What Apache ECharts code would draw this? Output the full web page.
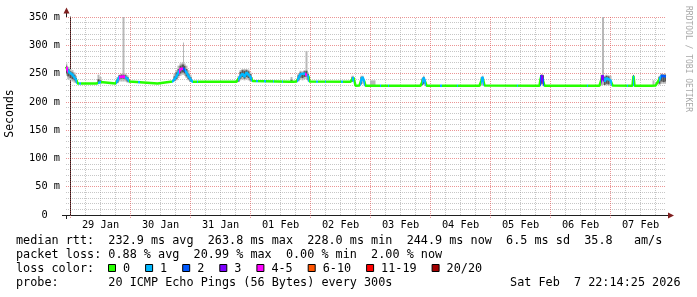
<!DOCTYPE html>
<html><head><meta charset="utf-8">
<script src="https://cdn.jsdelivr.net/npm/echarts@6/dist/echarts.min.js"></script>
<style>html,body{margin:0;padding:0;background:#fff}#c{width:697px;height:297px}</style>
</head><body><div id="c"></div>
<script>
// ---- time (hours from 29 Jan 00:00) ----
const xMin = -1.8, xMax = 238.2;
const times = [
  -1.8, -0.8, 0, 0.8, 1.6, 2.4, 2.8, 10.4, 11.2, 12.0,
  12.8, 18.0, 18.8, 19.6, 20.4, 21.2, 22.0, 22.8, 23.6, 24.4,
  34.8, 35.2, 40.8, 41.6, 42.4, 43.2, 44.0, 44.8, 45.2, 45.6,
  46.4, 47.2, 48.0, 48.8, 66.4, 67.2, 68.0, 68.8, 69.6, 70.4,
  71.2, 72.0, 72.8, 73.2, 87.6, 88.4, 89.2, 90.4, 91.2, 92.0,
  92.8, 93.6, 94.4, 95.2, 95.6, 112.0, 112.8, 113.2, 113.6, 114.0,
  115.6, 116.4, 116.8, 117.6, 118.0, 121.6, 122.4, 140.0, 140.8, 141.2,
  142.0, 142.4, 163.6, 164.4, 164.8, 165.6, 187.6, 188.0, 188.4, 189.2,
  189.6, 211.6, 212.4, 212.8, 213.2, 213.6, 214.4, 215.2, 216.0, 216.8,
  224.8, 225.2, 225.6, 232.4, 233.2, 234.0, 234.8, 235.6, 236.4, 237.2, 238.2
];
// median rtt (ms)
const median = [
  262, 253, 250, 248, 245, 238, 232.5, 232.5, 234, 235,
  232.5, 232.5, 238, 244, 245, 245, 244, 241, 236, 232.5,
  232.5, 235.5, 236, 240, 245, 252, 258, 260, 259, 257,
  252, 245, 240, 235.5, 235.5, 238, 246, 250, 244, 252,
  249, 244, 237, 235.5, 235.5, 235.5, 235.5, 236, 242, 249,
  246, 250, 253, 245, 236, 235.5, 238, 243, 236, 228.5,
  229, 240, 244, 235, 228.5, 228.5, 228.5, 228.5, 236, 243,
  234, 228.5, 228.5, 238, 244, 229, 228.5, 240, 247, 246,
  228.5, 228.5, 240, 247, 246, 236, 242, 240, 238, 229,
  228.5, 246, 228.5, 228.5, 228.5, 229, 229, 240, 246, 245, 245
];
// smoke (outer, light)
const smokeLo = [
  246, 240, 238, 236, 234, 233, 232.5, 232.5, 233, 233,
  232.5, 232.5, 233, 236, 236, 236, 236, 234, 233, 232.5,
  232.5, 235.5, 236, 236, 238, 242, 246, 248, 248, 246,
  242, 238, 235, 235.5, 235.5, 235, 238, 240, 238, 240,
  238, 236, 235, 235.5, 235.5, 235, 235.5, 236, 236, 240,
  238, 240, 240, 236, 236, 235.5, 235, 236, 236, 228.5,
  229, 230, 232, 229, 228.5, 228, 228.5, 228.5, 229, 230,
  229, 228.5, 228.5, 229, 230, 229, 228.5, 229, 230, 230,
  228.5, 228.5, 229, 230, 230, 229, 230, 229, 229, 229,
  228.5, 229, 228.5, 228.5, 228, 229, 229, 230, 232, 232, 232
];
const smokeHi = [
  268, 262, 258, 256, 252, 246, 232.5, 232.5, 248, 244,
  232.5, 232.5, 244, 248, 250, 356, 250, 247, 240, 232.5,
  232.5, 235.5, 236, 250, 256, 264, 268, 270, 305, 268,
  264, 256, 248, 235.5, 235.5, 246, 256, 258, 258, 258,
  257, 252, 244, 235.5, 235.5, 244, 235.5, 236, 250, 255,
  254, 256, 290, 252, 236, 235.5, 246, 246, 236, 228.5,
  229, 246, 246, 240, 228.5, 238, 228.5, 228.5, 242, 246,
  240, 228.5, 228.5, 244, 246, 229, 228.5, 248, 249, 248,
  228.5, 228.5, 248, 356, 356, 246, 248, 247, 246, 229,
  228.5, 248, 228.5, 228.5, 238, 229, 229, 246, 250, 249, 250
];
// smoke (core, dark)
const coreLo = [
  250, 245, 242, 240, 238, 234, 232.5, 232.5, 233, 233,
  232.5, 232.5, 234, 240, 241, 241, 240, 236, 236, 232.5,
  232.5, 235.5, 236, 237, 240, 246, 250, 252, 252, 250,
  245, 240, 236, 235.5, 235.5, 236, 241, 244, 241, 244,
  242, 238, 237, 235.5, 235.5, 235, 235.5, 236, 238, 243,
  242, 244, 245, 238, 236, 235.5, 236, 243, 236, 228.5,
  229, 232, 244, 235, 228.5, 228.5, 228.5, 228.5, 230, 232,
  234, 228.5, 228.5, 238, 244, 229, 228.5, 230, 232, 232,
  228.5, 228.5, 240, 247, 246, 230, 232, 231, 238, 229,
  228.5, 229, 228.5, 228.5, 228.5, 229, 229, 232, 236, 235, 236
];
const coreHi = [
  264, 258, 254, 252, 248, 242, 232.5, 232.5, 240, 238,
  232.5, 232.5, 240, 247, 248, 248, 247, 244, 236, 232.5,
  232.5, 235.5, 236, 245, 252, 258, 264, 266, 266, 264,
  258, 250, 244, 235.5, 235.5, 242, 253, 256, 255, 256,
  254, 249, 237, 235.5, 235.5, 239, 235.5, 236, 247, 252,
  251, 254, 255, 249, 236, 235.5, 244, 243, 236, 228.5,
  229, 244, 244, 235, 228.5, 228.5, 228.5, 228.5, 240, 244,
  234, 228.5, 228.5, 238, 244, 229, 228.5, 247, 248, 247,
  228.5, 228.5, 240, 247, 246, 244, 246, 245, 238, 229,
  228.5, 247, 228.5, 228.5, 228.5, 229, 229, 244, 248, 248, 248
];
// loss colour segments along time
const lossSegStart = [-1.8, -1.0, 3.6, 11.0, 18.4, 19.6, 22.0, 27.2, 40.8, 43.6, 45.2, 46.0, 50.4, 67.0, 74.4, 77.6, 81.0, 84.6, 90.8, 93.8, 94.8, 98.4, 101.8, 108.4, 112.6, 116.0, 123.8, 126.8, 140.6, 148.0, 154.6, 164.2, 178.6, 187.8, 188.2, 189.0, 206.6, 212.2, 213.4, 222.6, 225.0, 235.2, 236.2];
const lossSegEnd   = [-1.0, 2.6, 4.4, 12.2, 19.6, 22.0, 23.6, 27.8, 43.6, 45.2, 46.0, 49.2, 51.2, 72.8, 75.0, 78.2, 81.6, 85.2, 93.8, 94.8, 95.6, 99.0, 102.4, 109.0, 113.6, 117.8, 124.4, 127.4, 142.2, 148.8, 155.2, 165.4, 179.2, 188.2, 189.0, 189.4, 207.2, 213.4, 216.6, 223.2, 225.6, 236.2, 238.2];
const lossSegLevel = [4, 1, 1, 1, 1, 4, 1, 1, 1, 4, 2, 1, 1, 1, 1, 1, 1, 1, 1, 4, 1, 1, 1, 1, 1, 1, 1, 1, 1, 1, 1, 1, 1, 2, 3, 2, 1, 3, 1, 1, 1, 1, 2];
const lossColors = ['#26ff00', '#00b8ff', '#0059ff', '#7e00ff', '#ff00ff', '#ff5500', '#ff0000', '#a10000'];
const lossLabels = ['0', '1', '2', '3', '4-5', '6-10', '11-19', '20/20'];
// axes
const dayLines = [0, 24, 48, 72, 96, 120, 144, 168, 192, 216];
const dayLabelTimes = [12, 36, 60, 84, 108, 132, 156, 180, 204, 228];
const dayLabels = ['29 Jan', '30 Jan', '31 Jan', '01 Feb', '02 Feb', '03 Feb', '04 Feb', '05 Feb', '06 Feb', '07 Feb'];
const yMax = 350, yStep = 50;
// legend text
const legendLines = [
  'median rtt:  232.9 ms avg  263.8 ms max  228.0 ms min  244.9 ms now  6.5 ms sd  35.8   am/s',
  'packet loss: 0.88 % avg  20.99 % max  0.00 % min  2.00 % now',
  'loss color:',
  'probe:       20 ICMP Echo Pings (56 Bytes) every 300s'
];
const dateText = 'Sat Feb  7 22:14:25 2026';

const MONO = '"DejaVu Sans Mono", monospace';
const CHW = 7.1;
const MINOR = 'rgba(143,143,143,0.5)', MAJOR = 'rgba(222,79,79,0.6)';

// smoke cells: each sample covers half-way to its neighbours
const edges = times.map((t, i) => [
  i === 0 ? t : (times[i - 1] + t) / 2,
  i === times.length - 1 ? t : (t + times[i + 1]) / 2
]);
const cells = (lo, hi) => times.map((t, i) => [edges[i][0], edges[i][1], lo[i], hi[i]]).filter(r => r[3] > r[2]);

function cellRender(color) {
  return function (params, api) {
    const a = api.coord([api.value(0), api.value(3)]);
    const b = api.coord([api.value(1), api.value(2)]);
    const rect = echarts.graphic.clipRectByRect(
      {x: a[0], y: a[1], width: b[0] - a[0], height: b[1] - a[1]},
      {x: params.coordSys.x, y: params.coordSys.y, width: params.coordSys.width, height: params.coordSys.height});
    return rect && {type: 'rect', shape: rect, style: {fill: color}};
  };
}

const vGrid = [];
dayLines.forEach(d => { vGrid.push([d, 1]); [6, 12, 18].forEach(o => { if (d + o < xMax) vGrid.push([d + o, 0]); }); });

const pieces = lossSegStart.map((s, i) => ({gte: s, lt: lossSegEnd[i], color: lossColors[lossSegLevel[i]]}));

// legend graphics
const graphics = [];
const lineY = [241, 255, 269, 283];
legendLines.forEach((txt, i) => graphics.push({type: 'text', x: 16, y: lineY[i], silent: true,
  style: {text: txt, font: `11.8px ${MONO}`, fill: '#000', align: 'left', verticalAlign: 'middle'}}));
graphics.push({type: 'text', x: 680.5, y: lineY[3], silent: true,
  style: {text: dateText, font: `11.8px ${MONO}`, fill: '#000', align: 'right', verticalAlign: 'middle'}});
let bx = 108;
lossLabels.forEach((lab, i) => {
  graphics.push({type: 'rect', silent: true, shape: {x: bx + 0.5, y: 264.5, width: 7, height: 7},
    style: {fill: lossColors[i], stroke: '#000', lineWidth: 1}});
  graphics.push({type: 'text', x: bx + 15, y: lineY[2], silent: true,
    style: {text: lab, font: `11.8px ${MONO}`, fill: '#000', align: 'left', verticalAlign: 'middle'}});
  bx = bx + 15 + lab.length * CHW + 15;
});
graphics.push({type: 'text', x: 10.5, y: 113.5, rotation: Math.PI / 2, silent: true,
  style: {text: 'Seconds', font: `11.5px ${MONO}`, fill: '#000', align: 'center', verticalAlign: 'middle'}});
graphics.push({type: 'text', x: 688, y: 59, rotation: -Math.PI / 2, silent: true,
  style: {text: 'RRDTOOL / TOBI OETIKER', font: `8px ${MONO}`, fill: '#a8a8a8', align: 'center', verticalAlign: 'middle'}});
// axis extensions + arrows
graphics.push({type: 'line', silent: true, shape: {x1: 66.5, y1: 17, x2: 66.5, y2: 13}, style: {stroke: '#1f1f1f', lineWidth: 1}});
graphics.push({type: 'line', silent: true, shape: {x1: 66.5, y1: 215, x2: 66.5, y2: 219}, style: {stroke: '#1f1f1f', lineWidth: 1}});
graphics.push({type: 'line', silent: true, shape: {x1: 62, y1: 215.5, x2: 66, y2: 215.5}, style: {stroke: '#1f1f1f', lineWidth: 1}});
graphics.push({type: 'line', silent: true, shape: {x1: 666, y1: 215.5, x2: 668, y2: 215.5}, style: {stroke: '#1f1f1f', lineWidth: 1}});
graphics.push({type: 'polygon', silent: true, shape: {points: [[63.5, 13.5], [66.5, 7.5], [69.5, 13.5]]}, style: {fill: '#7f1f1f'}});
graphics.push({type: 'polygon', silent: true, shape: {points: [[668, 212.5], [674, 215.5], [668, 218.5]]}, style: {fill: '#7f1f1f'}});

const chart = echarts.init(document.getElementById('c'), null, {renderer: 'canvas', width: 697, height: 297});
chart.setOption({
  animation: false,
  backgroundColor: '#ffffff',
  grid: {left: 66, top: 17, width: 600, height: 198, containLabel: false},
  xAxis: {
    type: 'value', min: xMin, max: xMax,
    axisLine: {show: true, onZero: false, lineStyle: {color: '#1f1f1f', width: 1}},
    axisTick: {show: false},
    splitLine: {show: false},
    axisLabel: {
      customValues: dayLabelTimes,
      formatter: v => { const k = dayLabelTimes.indexOf(v); return k >= 0 ? dayLabels[k] : ''; },
      fontFamily: MONO, fontSize: 10.3, color: '#000', margin: 5
    }
  },
  yAxis: {
    type: 'value', min: 0, max: yMax, interval: yStep,
    axisLine: {show: true, lineStyle: {color: '#1f1f1f', width: 1}},
    axisTick: {show: false},
    axisLabel: {formatter: v => v === 0 ? '0  ' : v + ' m', fontFamily: MONO, fontSize: 10.3, color: '#000', margin: 6},
    splitLine: {show: true, lineStyle: {color: MAJOR, type: 'dotted', width: 1}},
    minorTick: {show: false, splitNumber: 5},
    minorSplitLine: {show: true, lineStyle: {color: MINOR, type: 'dotted', width: 1}}
  },
  visualMap: [{type: 'piecewise', show: false, dimension: 0, seriesIndex: 3, pieces: pieces, outOfRange: {color: lossColors[0]}}],
  series: [
    {name: 'vgrid', type: 'custom', silent: true, z: 1, data: vGrid, encode: {x: 0},
      renderItem: function (params, api) {
        const t = api.value(0), major = api.value(1) === 1;
        const p0 = api.coord([t, 0]), p1 = api.coord([t, yMax]);
        const x = Math.round(p0[0] - 0.5) + 0.5;
        return {type: 'line', shape: {x1: x, y1: p0[1] + (major ? 3 : 0), x2: x, y2: p1[1]},
          style: {stroke: major ? MAJOR : MINOR, lineWidth: 1, lineDash: [1, 1]}};
      }},
    {name: 'smoke', type: 'custom', silent: true, z: 2, data: cells(smokeLo, smokeHi),
      encode: {x: [0, 1], y: [2, 3]}, renderItem: cellRender('#b8b8b8')},
    {name: 'core', type: 'custom', silent: true, z: 3, data: cells(coreLo, coreHi),
      encode: {x: [0, 1], y: [2, 3]}, renderItem: cellRender('#555555')},
    {name: 'median', type: 'line', data: times.map((t, i) => [t, median[i]]), symbol: 'none', silent: true,
      lineStyle: {width: 2.5}, z: 6}
  ],
  graphic: graphics
});
</script>
</body></html>
